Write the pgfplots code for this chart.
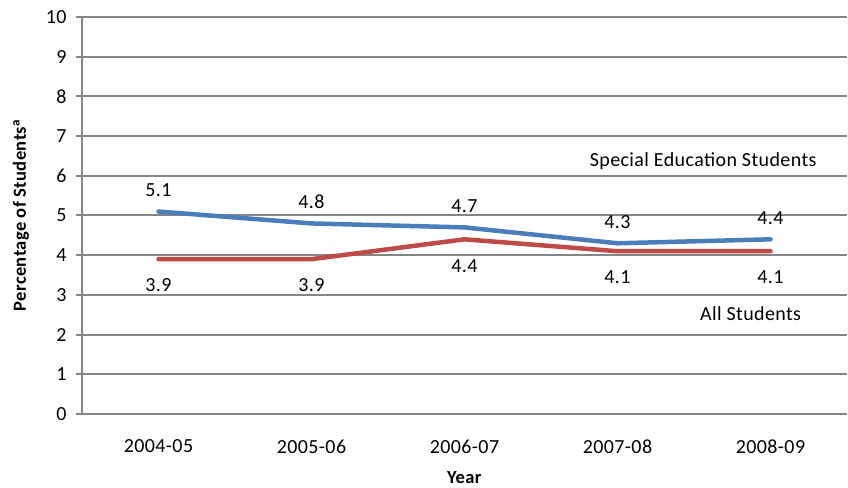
\documentclass[border=0pt]{standalone}
\usepackage{pgfplots}
\pgfplotsset{compat=1.18}
\usepackage{fontspec}
\setmainfont{Carlito}[LetterSpace=2]
\definecolor{gridgray}{RGB}{134,134,134}
\definecolor{sblue}{RGB}{74,126,187}
\definecolor{sred}{RGB}{190,75,72}
\begin{document}
\begin{tikzpicture}
\begin{axis}[
  name=ax,
  scale only axis,
  width=765pt, height=397pt,
  xmin=-0.5, xmax=4.5,
  ymin=0, ymax=10,
  ytick={0,1,...,10},
  xtick={0,1,2,3,4},
  xticklabels={2004-05,2005-06,2006-07,2007-08,2008-09},
  extra x ticks={0.5,1.5,2.5,3.5},
  extra x tick labels={},
  extra x tick style={major tick length=6pt, tick style={draw=gridgray, line width=2pt}, grid=none},
  axis x line*=bottom,
  axis y line*=left,
  axis line style={draw=gridgray, line width=2pt, -},
  ymajorgrids,
  grid style={draw=gridgray, line width=2pt},
  major y tick style={draw=gridgray, line width=2pt},
  major x tick style={draw=none},
  tick align=outside,
  major tick length=6pt,
  xtick pos=bottom, ytick pos=left,
  tick label style={font=\fontsize{20}{24}\selectfont, text=black},
  /pgf/number format/assume math mode=true,
  yticklabel style={xshift=-6pt},
  xticklabel style={yshift=-16pt},
  xlabel={\textbf{Year}},
  ylabel={\textbf{Percentage of Students\textsuperscript{a}}},
  label style={font=\fontsize{18.5}{22}\selectfont},
  xlabel style={at={(rel axis cs:0.5,0)}, anchor=center, yshift=-64pt},
  ylabel style={at={(rel axis cs:0,0.5)}, anchor=center, yshift=61pt},
  clip=false,
]
\addplot[sblue, line width=4.5pt, line cap=round, line join=round] coordinates {(0,5.1) (1,4.8) (2,4.7) (3,4.3) (4,4.4)};
\addplot[sred, line width=4.5pt, line cap=round, line join=round] coordinates {(0,3.9) (1,3.9) (2,4.4) (3,4.1) (4,4.1)};
\begin{scope}[every node/.style={font=\fontsize{20}{24}\selectfont, text=black}]
\node at (axis cs:0,5.65) {5.1};
\node at (axis cs:1,5.34) {4.8};
\node at (axis cs:2,5.24) {4.7};
\node at (axis cs:3,4.84) {4.3};
\node at (axis cs:4,4.94) {4.4};
\node at (axis cs:0,3.25) {3.9};
\node at (axis cs:1,3.25) {3.9};
\node at (axis cs:2,3.73) {4.4};
\node at (axis cs:3,3.45) {4.1};
\node at (axis cs:4,3.45) {4.1};
\node at (axis cs:3.56,6.37) {Special Education Students};
\node at (axis cs:3.87,2.54) {All Students};
\end{scope}
\end{axis}
\pgfresetboundingbox
\path ([shift={(-82pt,-73pt)}]ax.south west) rectangle ([shift={(1pt,17pt)}]ax.north east);
\end{tikzpicture}
\end{document}
